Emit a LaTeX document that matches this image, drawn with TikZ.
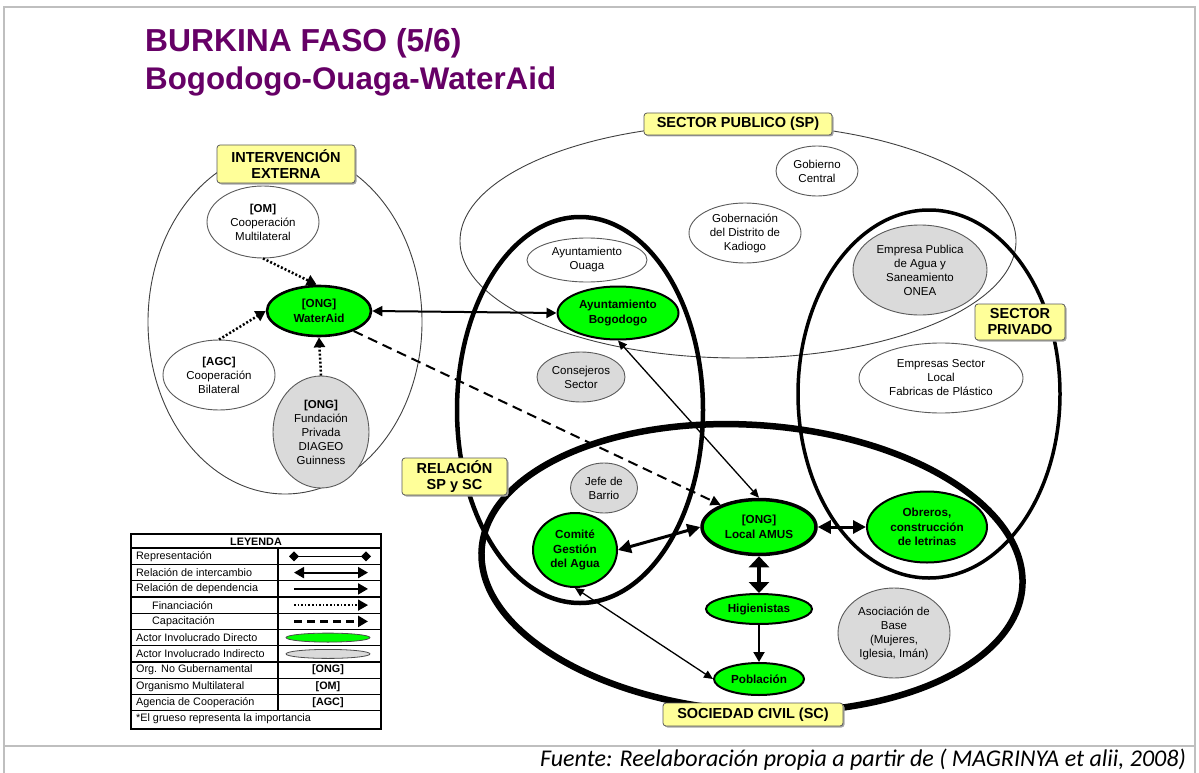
\documentclass[tikz,border=0pt]{standalone}
\usepackage{fontspec}
\setmainfont{Liberation Sans}
\newfontfamily\footfont{Carlito}
\usetikzlibrary{arrows.meta,shapes.geometric,shadows}
\definecolor{titlepurple}{RGB}{102,0,102}
\definecolor{framegray}{RGB}{191,191,191}
\definecolor{lyellow}{RGB}{255,255,153}
\definecolor{brightgreen}{RGB}{0,255,0}
\definecolor{indgray}{RGB}{218,218,218}
\definecolor{edgegray}{RGB}{90,90,90}
\tikzset{
  plainactor/.style={ellipse, draw=edgegray, line width=0.9pt, fill=white, align=center, inner sep=0pt, font=\fontsize{11.5}{14}\selectfont},
  indactor/.style={plainactor, fill=indgray},
  diractor/.style={ellipse, draw=black, line width=2pt, fill=brightgreen, align=center, inner sep=0pt, font=\bfseries\fontsize{11.7}{14.5}\selectfont},
  tagbox/.style={rectangle, rounded corners=3pt, draw=edgegray, line width=0.8pt, fill=lyellow, align=center, inner sep=0pt, font=\bfseries\fontsize{14.5}{16}\selectfont, drop shadow={shadow xshift=1.5pt, shadow yshift=-1.5pt, fill=black!35, opacity=1}},
  thinregion/.style={draw=black!75, line width=0.9pt},
  finarrow/.style={line width=2.5pt, dash pattern=on 2pt off 2pt, -{Triangle[length=10pt,width=11pt]}},
  caparrow/.style={line width=2pt, dash pattern=on 10pt off 6pt, -{Triangle[length=10pt,width=10pt]}},
  thinexch/.style={line width=1.3pt, {Triangle[length=9pt,width=8pt]}-{Triangle[length=9pt,width=8pt]}},
  midexch/.style={line width=2pt, {Triangle[length=10pt,width=10pt]}-{Triangle[length=10pt,width=10pt]}},
  heavyexch/.style={line width=3pt, {Triangle[length=13pt,width=13pt]}-{Triangle[length=13pt,width=13pt]}},
  heaviestexch/.style={line width=4.5pt, {Triangle[length=11pt,width=20pt]}-{Triangle[length=11pt,width=20pt]}},
  deparrow/.style={line width=2pt, -{Triangle[length=10pt,width=11pt]}},
  legtext/.style={anchor=west, inner sep=0pt, font=\fontsize{10.8}{12}\selectfont},
  legbold/.style={inner sep=0pt, font=\bfseries\fontsize{10.8}{12}\selectfont},
}
\begin{document}
\begin{tikzpicture}[x=1pt,y=-1pt]
\useasboundingbox (0,0) rectangle (1199,773);
% frame
\draw[framegray, line width=2pt] (4,773) -- (4,7) -- (1195,7) -- (1195,773);
\draw[framegray, line width=2pt] (4,746) -- (1195,746);
% title
\node[anchor=base west, inner sep=0pt, text=titlepurple, font=\bfseries\fontsize{31.8}{36}\selectfont] (t1) at (145,52) {BURKINA FASO (5/6)};
\node[anchor=base west, inner sep=0pt, text=titlepurple, font=\bfseries\fontsize{31.3}{36}\selectfont] (t2) at (145,90) {Bogodogo-Ouaga-WaterAid};

% regions
\draw[thinregion] (285,322) ellipse [x radius=137pt, y radius=172pt];
\draw[thinregion] (738,241) ellipse [x radius=278pt, y radius=117pt];
\draw[line width=4.5pt] (580,410) ellipse [x radius=123pt, y radius=193pt];
\draw[line width=3.5pt] (929,394) ellipse [x radius=131pt, y radius=184pt];
\draw[line width=6.5pt, rotate around={-4:(752,568)}] (752,568) ellipse [x radius=271pt, y radius=143pt];

% labels
\node[tagbox, minimum width=138pt, minimum height=38pt] (lie) at (286,164) {INTERVENCIÓN\\EXTERNA};
\node[tagbox, minimum width=188pt, minimum height=22pt] (lsp) at (738,124) {SECTOR PUBLICO (SP)};
\node[tagbox, minimum width=90pt, minimum height=36pt] (lpr) at (1020,322) {SECTOR\\PRIVADO};
\node[tagbox, minimum width=105pt, minimum height=37pt] (lrel) at (454.5,476.5) {RELACIÓN\\SP y SC};
\node[tagbox, minimum width=180pt, minimum height=23pt] (lsc) at (753,714.5) {SOCIEDAD CIVIL (SC)};

% intervención externa actors
\node[plainactor, minimum width=112pt, minimum height=72pt] (om) at (263,222) {\textbf{[OM]}\\Cooperación\\Multilateral};
\node[diractor, line width=2.6pt, minimum width=104pt, minimum height=50pt] (wa) at (319,311) {[ONG]\\WaterAid};
\node[plainactor, minimum width=112pt, minimum height=70pt] (agc) at (219,375) {\textbf{[AGC]}\\Cooperación\\Bilateral};
\node[indactor, minimum width=96pt, minimum height=112pt] (fd) at (321,432) {\textbf{[ONG]}\\Fundación\\Privada\\DIAGEO\\Guinness};

% sector publico actors
\node[plainactor, minimum width=82pt, minimum height=50pt] (gc) at (817,171) {Gobierno\\Central};
\node[plainactor, minimum width=112pt, minimum height=60pt] (gk) at (745,233) {Gobernación\\del Distrito de\\Kadiogo};
\node[plainactor, minimum width=120pt, minimum height=44pt] (ao) at (587,260) {Ayuntamiento\\Ouaga};
\node[diractor, minimum width=121pt, minimum height=53pt] (bog) at (618,313) {Ayuntamiento\\Bogodogo};
\node[indactor, minimum width=88pt, minimum height=50pt] (cs) at (581,377) {Consejeros\\Sector};
\node[indactor, minimum width=134pt, minimum height=90pt] (onea) at (920,270) {Empresa Publica\\de Agua y\\Saneamiento\\ONEA};
\node[plainactor, minimum width=164pt, minimum height=70pt] (esl) at (941,378) {Empresas Sector\\Local\\Fabricas de Plástico};

% sociedad civil actors
\node[indactor, minimum width=67pt, minimum height=50pt] (jb) at (604,488) {Jefe de\\Barrio};
\node[diractor, minimum width=84pt, minimum height=74pt] (cg) at (575,550) {Comité\\Gestión\\del Agua};
\node[diractor, line width=3.5pt, minimum width=114pt, minimum height=55pt] (amus) at (759,527) {[ONG]\\Local AMUS};
\node[diractor, minimum width=106pt, minimum height=30pt] (hig) at (759,609) {Higienistas};
\node[diractor, minimum width=90pt, minimum height=32pt] (pob) at (759,679) {Población};
\node[diractor, minimum width=120pt, minimum height=71pt] (ob) at (927,527) {Obreros,\\construcción\\de letrinas};
\node[indactor, minimum width=112pt, minimum height=90pt] (ab) at (894,633) {Asociación de\\Base\\(Mujeres,\\Iglesia, Imán)};

% connectors
\draw[finarrow] (om.south) -- (wa.95);
\draw[finarrow] (agc.north) -- (wa.west);
\draw[finarrow] (fd.north) -- (wa.south);
\draw[midexch] (wa.east) -- (bog.west);
\draw[caparrow] (wa.-30) -- (amus.150);
\draw[thinexch] (bog.south) -- (amus.north);
\draw[heavyexch] (cg.east) -- (amus.west);
\draw[heavyexch] (amus.east) -- (ob.west);
\draw[heaviestexch] (amus.south) -- (hig.north);
\draw[deparrow] (hig.south) -- (pob.north);
\draw[thinexch] (cg.south) -- (pob.west);

% legend
\draw[line width=1.8pt] (131,548.25) -- (381,548.25);
\foreach \yy in {564.5,580.75,597,613.25,629.5,645.75,662,678.25,694.5,710.75}
  \draw[line width=1.1pt] (131,\yy) -- (381,\yy);
\draw[line width=1.1pt] (278,548.25) -- (278,710.75);
\draw[line width=1.8pt] (131,534) rectangle (381,729);
\node[legbold] (lg0) at (256,542.1) {LEYENDA};
\node[legtext] (lg1) at (136,556.4) {Representación};
\node[legtext] (lg2) at (136,572.6) {Relación de intercambio};
\node[legtext] (lg3) at (136,588.9) {Relación de dependencia};
\node[legtext] (lg4) at (152,605.1) {Financiación};
\node[legtext] (lg5) at (152,621.4) {Capacitación};
\node[legtext] (lg6) at (136,637.6) {Actor Involucrado Directo};
\node[legtext] (lg7) at (136,653.9) {Actor Involucrado Indirecto};
\node[legtext] (lg8) at (136,670.1) {Org. No Gubernamental};
\node[legtext] (lg9) at (136,686.4) {Organismo Multilateral};
\node[legtext] (lg10) at (136,702.6) {Agencia de Cooperación};
\node[legtext] (lg11) at (136,718.9) {*El grueso representa la importancia};
\coordinate (s1a) at (289,556.4); \coordinate (s1b) at (371,556.4);
\draw[line width=1.2pt, {Diamond[length=10pt,width=10pt]}-{Diamond[length=10pt,width=10pt]}] (s1a) -- (s1b);
\coordinate (s2a) at (294,572.6); \coordinate (s2b) at (368,572.6);
\draw[line width=2pt, {Triangle[length=10pt,width=11pt]}-{Triangle[length=10pt,width=11pt]}] (s2a) -- (s2b);
\coordinate (s3a) at (294,588.9); \coordinate (s3b) at (368,588.9);
\draw[line width=2pt, -{Triangle[length=10pt,width=11pt]}] (s3a) -- (s3b);
\coordinate (s4a) at (294,605.1); \coordinate (s4b) at (368,605.1);
\draw[line width=1.6pt, dash pattern=on 1.6pt off 2pt, -{Triangle[length=10pt,width=11pt]}] (s4a) -- (s4b);
\coordinate (s5a) at (294,621.4); \coordinate (s5b) at (368,621.4);
\draw[line width=2.5pt, dash pattern=on 8pt off 5pt, -{Triangle[length=10pt,width=11pt]}] (s5a) -- (s5b);
\node[ellipse, draw=black!70, line width=0.8pt, fill=brightgreen, minimum width=84pt, minimum height=9pt, inner sep=0pt] (s6) at (328,637.6) {};
\node[ellipse, draw=black!70, line width=0.8pt, fill=indgray, minimum width=84pt, minimum height=9pt, inner sep=0pt] (s7) at (328,653.9) {};
\node[legbold] (s8) at (328,670.1) {[ONG]};
\node[legbold] (s9) at (328,686.4) {[OM]};
\node[legbold] (s10) at (328,702.6) {[AGC]};

% source
\node[anchor=base east, inner sep=0pt, font=\footfont\itshape\fontsize{24}{26}\selectfont] (src) at (1186,766) {Fuente: Reelaboración propia a partir de ( MAGRINYA et alii, 2008)};
\end{tikzpicture}
\end{document}
